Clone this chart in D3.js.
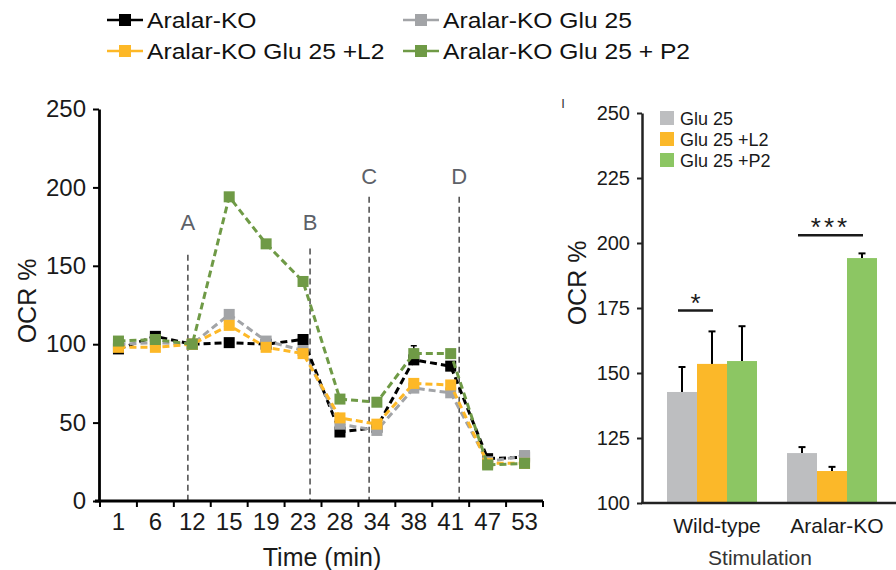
<!DOCTYPE html>
<html>
<head>
<meta charset="utf-8">
<script src="https://cdn.jsdelivr.net/npm/d3@7"></script>
<style>
  body { margin: 0; background: #fff; }
  svg { font-family: "Liberation Sans", Arial, sans-serif; display: block; }
</style>
</head>
<body>
<svg id="chart" width="896" height="570"></svg>
<script>
// ---- data: time course (left) ----
const times = ["1", "6", "12", "15", "19", "23", "28", "34", "38", "41", "47", "53"];
const lineNames = ["Aralar-KO", "Aralar-KO Glu 25", "Aralar-KO Glu 25 +L2", "Aralar-KO Glu 25 + P2"];
const koVals  = [97, 105, 100, 101, 100, 103, 44, 47, 90, 86, 27, 28];
const gluVals = [100, 101, 100, 119, 102, 96, 49, 45, 72, 69, 25, 29];
const l2Vals  = [98, 98, 100, 112, 98, 94, 53, 49, 75, 74, 24, 24];
const p2Vals  = [102, 103, 100, 194, 164, 140, 65, 63, 94, 94, 23, 24];
const koErr   = [0, 2, 0, 0, 0, 0, 0, 0, 9, 0, 0, 0];
const leftTicks = [0, 50, 100, 150, 200, 250];

// injections: label, position in category index units, top of dashed line, label height (OCR %)
const injLabels = ["A", "B", "C", "D"];
const injIndex  = [1.88, 5.19, 6.79, 9.23];
const injTop    = [157, 161, 194, 194];
const injText   = [173, 173, 202, 202];

// ---- data: stimulation bars (right) ----
const groups = ["Wild-type", "Aralar-KO"];
const barNames = ["Glu 25", "Glu 25 +L2", "Glu 25 +P2"];
const glu25 = [142.7, 119.2];
const glu25L2 = [153.5, 112.3];
const glu25P2 = [154.6, 194.2];
const glu25Err = [9.6, 2.3];
const glu25L2Err = [12.5, 1.6];
const glu25P2Err = [13.4, 1.8];
const rightTicks = [100, 125, 150, 175, 200, 225, 250];
const sigs = [
  { group: "Wild-type", from: 0, to: 1, y: 174, label: "*" },
  { group: "Aralar-KO", from: 0, to: 2, y: 203, label: "***" }
];

const lineColors = ["#000000", "#a2a4a7", "#fdb827", "#6f9a46"];
const barColors = ["#bdbec0", "#fbb829", "#8cc663"];

const svg = d3.select("#chart");

// ================= LEFT PANEL =================
const x = d3.scaleBand().domain(times).range([100, 543]);
const xi = d3.scaleLinear().domain([-0.5, times.length - 0.5]).range([100, 543]);
const y = d3.scaleLinear().domain([0, 250]).range([501, 109]);

const left = svg.append("g");

// injection dashed lines
injLabels.forEach((lab, i) => {
  left.append("line")
    .attr("x1", xi(injIndex[i])).attr("x2", xi(injIndex[i]))
    .attr("y1", y(injTop[i])).attr("y2", y(0))
    .attr("stroke", "#555").attr("stroke-width", 1.6)
    .attr("stroke-dasharray", "6,4");
  left.append("text")
    .attr("x", xi(injIndex[i])).attr("y", y(injText[i]))
    .attr("text-anchor", "middle")
    .attr("font-size", 22).attr("fill", "#5d6168")
    .text(lab);
});

// y axis
const yAxis = left.append("g")
  .attr("transform", "translate(99,0)")
  .call(d3.axisLeft(y).tickValues(leftTicks).tickSize(6).tickPadding(7).tickSizeOuter(0));
yAxis.select(".domain").attr("stroke", "#000").attr("stroke-width", 2.8);
yAxis.selectAll(".tick line").attr("stroke", "#000").attr("stroke-width", 2);
yAxis.selectAll(".tick text").attr("font-size", 24).attr("fill", "#1a1a1a").attr("font-family", null);

// x axis
const xAxis = left.append("g")
  .attr("transform", "translate(0,501)")
  .call(d3.axisBottom(x).tickSize(0).tickPadding(12).tickSizeOuter(0));
xAxis.select(".domain").remove();
xAxis.selectAll(".tick text").attr("font-size", 24).attr("fill", "#1a1a1a").attr("font-family", null);
left.append("line")
  .attr("x1", 95).attr("x2", 543).attr("y1", 501).attr("y2", 501)
  .attr("stroke", "#000").attr("stroke-width", 2.8);
left.selectAll(".xb")
  .data(d3.range(times.length + 1))
  .enter().append("line")
  .attr("x1", d => xi(d - 0.5)).attr("x2", d => xi(d - 0.5))
  .attr("y1", 501).attr("y2", 507)
  .attr("stroke", "#000").attr("stroke-width", 2);

// series
const lineSeries = [koVals, gluVals, l2Vals, p2Vals];
const lineGen = d3.line()
  .x((d, i) => x(times[i]) + x.bandwidth() / 2)
  .y(d => y(d));

// error caps for KO
times.forEach((t, i) => {
  if (!koErr[i]) return;
  const cx = x(t) + x.bandwidth() / 2;
  left.append("line").attr("x1", cx).attr("x2", cx)
    .attr("y1", y(koVals[i])).attr("y2", y(koVals[i] + koErr[i]))
    .attr("stroke", "#000").attr("stroke-width", 1.5);
  left.append("line").attr("x1", cx - 3).attr("x2", cx + 3)
    .attr("y1", y(koVals[i] + koErr[i])).attr("y2", y(koVals[i] + koErr[i]))
    .attr("stroke", "#000").attr("stroke-width", 1.5);
});

lineSeries.forEach((vals, k) => {
  const g = left.append("g");
  g.append("path")
    .datum(vals)
    .attr("d", lineGen)
    .attr("fill", "none")
    .attr("stroke", lineColors[k])
    .attr("stroke-width", 3)
    .attr("stroke-dasharray", "7,4");
  g.selectAll("rect")
    .data(vals)
    .enter().append("rect")
    .attr("x", (d, i) => x(times[i]) + x.bandwidth() / 2 - 5.5)
    .attr("y", d => y(d) - 5.5)
    .attr("width", 11).attr("height", 11)
    .attr("fill", lineColors[k]);
});

// axis titles
left.append("text")
  .attr("transform", "translate(36,301) rotate(-90)")
  .attr("text-anchor", "middle")
  .attr("font-size", 25).attr("fill", "#1a1a1a")
  .text("OCR %");
left.append("text")
  .attr("x", 322).attr("y", 566)
  .attr("text-anchor", "middle")
  .attr("font-size", 25).attr("fill", "#1a1a1a")
  .text("Time (min)");

// legend (top)
const legCols = [107, 403];
const legRows = [20, 51];
lineNames.forEach((name, i) => {
  const lx = legCols[i % 2], ly = legRows[Math.floor(i / 2)];
  const g = svg.append("g");
  g.append("line").attr("x1", lx).attr("x2", lx + 36).attr("y1", ly).attr("y2", ly)
    .attr("stroke", lineColors[i]).attr("stroke-width", 2.5);
  g.append("rect").attr("x", lx + 12).attr("y", ly - 6).attr("width", 12).attr("height", 12)
    .attr("fill", lineColors[i]);
  g.append("text")
    .attr("transform", `translate(${lx + 40},${ly + 8}) scale(1.12,1)`)
    .attr("font-size", 22).attr("fill", "#111")
    .text(name);
});

// ================= RIGHT PANEL =================
const x0 = d3.scaleBand().domain(groups).range([652, 892]).paddingInner(0.25).paddingOuter(0.125);
const x1 = d3.scaleBand().domain(barNames).range([0, x0.bandwidth()]);
const y2 = d3.scaleLinear().domain([100, 250]).range([503, 113]);

const right = svg.append("g");
const barVals = [glu25, glu25L2, glu25P2];
const barErrs = [glu25Err, glu25L2Err, glu25P2Err];

// error bars (behind bars)
barNames.forEach((name, k) => {
  groups.forEach((grp, j) => {
    const cx = x0(grp) + x1(name) + x1.bandwidth() / 2;
    const top = barVals[k][j] + barErrs[k][j];
    right.append("line").attr("x1", cx).attr("x2", cx)
      .attr("y1", y2(barVals[k][j])).attr("y2", y2(top))
      .attr("stroke", "#000").attr("stroke-width", 2);
    right.append("line").attr("x1", cx - 3.5).attr("x2", cx + 3.5)
      .attr("y1", y2(top)).attr("y2", y2(top))
      .attr("stroke", "#000").attr("stroke-width", 2);
  });
});

barNames.forEach((name, k) => {
  right.selectAll(".bar" + k)
    .data(barVals[k])
    .enter().append("rect")
    .attr("x", (d, j) => x0(groups[j]) + x1(name))
    .attr("y", d => y2(d))
    .attr("width", x1.bandwidth())
    .attr("height", d => y2(100) - y2(d))
    .attr("fill", barColors[k]);
});

const y2Axis = right.append("g")
  .attr("transform", "translate(642,0)")
  .call(d3.axisLeft(y2).tickValues(rightTicks).tickSize(5).tickPadding(7).tickSizeOuter(0));
y2Axis.select(".domain").attr("stroke", "#222").attr("stroke-width", 2.5);
y2Axis.selectAll(".tick line").attr("stroke", "#222").attr("stroke-width", 2);
y2Axis.selectAll(".tick text").attr("font-size", 20).attr("fill", "#1a1a1a").attr("font-family", null);

right.append("line")
  .attr("x1", 641).attr("x2", 896).attr("y1", y2(100)).attr("y2", y2(100))
  .attr("stroke", "#222").attr("stroke-width", 2.5);

right.selectAll(".grp")
  .data(groups)
  .enter().append("text")
  .attr("x", d => x0(d) + x0.bandwidth() / 2 + 5)
  .attr("y", 533)
  .attr("text-anchor", "middle")
  .attr("font-size", 21).attr("fill", "#1a1a1a")
  .text(d => d);

right.append("text")
  .attr("x", 760).attr("y", 565)
  .attr("text-anchor", "middle")
  .attr("font-size", 21).attr("fill", "#333")
  .text("Stimulation");

right.append("text")
  .attr("transform", "translate(586,283) rotate(-90)")
  .attr("text-anchor", "middle")
  .attr("font-size", 25).attr("fill", "#1a1a1a")
  .text("OCR %");

right.append("text")
  .attr("x", 563).attr("y", 108)
  .attr("text-anchor", "middle")
  .attr("font-size", 13).attr("fill", "#333")
  .text("I");

// significance
sigs.forEach(s => {
  const xa = x0(s.group) + x1(barNames[s.from]) + x1.bandwidth() / 2 - 4;
  const xb = x0(s.group) + x1(barNames[s.to]) + x1.bandwidth() / 2 + 1;
  right.append("line").attr("x1", xa).attr("x2", xb)
    .attr("y1", y2(s.y)).attr("y2", y2(s.y))
    .attr("stroke", "#1a1a1a").attr("stroke-width", 2.5);
  right.append("text")
    .attr("x", (xa + xb) / 2).attr("y", y2(s.y) + 1)
    .attr("text-anchor", "middle")
    .attr("font-size", 26).attr("letter-spacing", s.label.length > 1 ? 3 : 0)
    .attr("fill", "#1a1a1a")
    .text(s.label);
});

// bar legend
barNames.forEach((name, k) => {
  const ly = 118 + k * 21;
  right.append("rect").attr("x", 660).attr("y", ly - 7).attr("width", 14).attr("height", 14)
    .attr("fill", barColors[k]);
  right.append("text").attr("x", 680).attr("y", ly + 6.5)
    .attr("font-size", 18).attr("fill", "#1a1a1a")
    .text(name);
});
</script>
</body>
</html>
